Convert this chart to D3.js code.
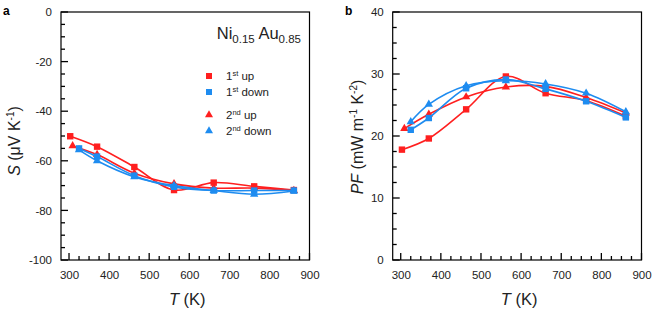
<!DOCTYPE html>
<html>
<head>
<meta charset="utf-8">
<script src="https://cdn.jsdelivr.net/npm/d3@7"></script>
<style>
  body { margin: 0; background: #fff; }
  svg { font-family: "Liberation Sans", Arial, sans-serif; }
</style>
</head>
<body>
<svg id="chart" width="664" height="316"></svg>
<script>
// temperatures (K)
const tUp1 = [303, 370, 463, 562, 661, 762, 861];
const tUp2 = [309, 370, 463, 562, 661, 762, 861];
const tDown = [325, 370, 463, 562, 661, 762, 861];

// Seebeck coefficient S (uV/K)
const sUp1 = [-50.1, -54.3, -62.5, -71.8, -68.8, -70.3, -71.8];
const sDown1 = [-55.0, -58.3, -66.0, -70.5, -72.0, -72.0, -72.0];
const sUp2 = [-54.0, -57.5, -65.0, -69.3, -71.0, -71.0, -72.0];
const sDown2 = [-55.6, -60.0, -66.5, -70.0, -72.0, -73.5, -72.2];

// Power factor PF (mW m-1 K-2)
const pfUp1 = [17.8, 19.6, 24.3, 29.6, 26.9, 25.7, 23.2];
const pfDown1 = [21.0, 22.9, 27.7, 29.1, 27.6, 25.6, 23.0];
const pfUp2 = [21.2, 23.5, 26.3, 27.9, 28.0, 26.2, 23.7];
const pfDown2 = [22.3, 25.1, 28.1, 28.9, 28.4, 26.9, 23.9];

const xTicks = [300, 400, 500, 600, 700, 800, 900];
const sTicks = [0, -20, -40, -60, -80, -100];
const pfTicks = [0, 10, 20, 30, 40];

const RED = "#ff1f1f";
const BLUE = "#1e8cf0";

const svg = d3.select("svg#chart");
const font = "Liberation Sans, Arial, sans-serif";

function zip(xs, ys) { return xs.map((x, i) => ({ x: x, y: ys[i] })); }

function panel(opts) {
  const g = svg.append("g");
  const x = d3.scaleLinear().domain([280, 900]).range([opts.left, opts.right]);
  const y = d3.scaleLinear().domain(opts.yDomain).range([260, 12]);

  // frame
  g.append("rect")
    .attr("x", opts.left).attr("y", 12)
    .attr("width", opts.right - opts.left).attr("height", 248)
    .attr("fill", "none").attr("stroke", "#000").attr("stroke-width", 1.2);

  // x axis labels
  const xAxis = g.append("g").attr("transform", "translate(0,260)")
    .call(d3.axisBottom(x).tickValues(xTicks).tickSize(0).tickPadding(9).tickFormat(d => String(d)));
  xAxis.select(".domain").remove();

  // y axis labels
  const yAxis = g.append("g").attr("transform", `translate(${opts.left},0)`)
    .call(d3.axisLeft(y).tickValues(opts.yTicks).tickSize(0).tickPadding(9).tickFormat(d => String(d)));
  yAxis.select(".domain").remove();

  g.selectAll(".tick text").attr("font-size", 11.5).attr("font-family", font).attr("fill", "#222");
  xAxis.selectAll(".tick text").attr("dy", "0.9em");

  // inward tick marks
  const xMinor = d3.range(300, 900, 25).filter(v => v % 100 !== 0);
  const ticks = g.append("g").style("stroke", "#000").style("stroke-width", "1.3px");
  ticks.selectAll("line.xmaj").data(xTicks).join("line").attr("class", "xmaj")
    .attr("x1", d => x(d)).attr("x2", d => x(d)).attr("y1", 260).attr("y2", 253);
  ticks.selectAll("line.xmin").data(xMinor).join("line").attr("class", "xmin")
    .attr("x1", d => x(d)).attr("x2", d => x(d)).attr("y1", 260).attr("y2", 256);
  ticks.selectAll("line.ymaj").data(opts.yTicks).join("line").attr("class", "ymaj")
    .attr("y1", d => y(d)).attr("y2", d => y(d)).attr("x1", opts.left).attr("x2", opts.left + 7);
  ticks.selectAll("line.ymin").data(opts.yMinor).join("line").attr("class", "ymin")
    .attr("y1", d => y(d)).attr("y2", d => y(d)).attr("x1", opts.left).attr("x2", opts.left + 4);

  const line = d3.line().x(d => x(d.x)).y(d => y(d.y)).curve(d3.curveCatmullRom.alpha(0.5));

  opts.series.forEach(s => {
    const pts = zip(s.t, s.v);
    g.append("path").datum(pts)
      .attr("d", line).attr("fill", "none")
      .attr("stroke", s.color).attr("stroke-width", 1.6);
    if (s.shape === "square") {
      g.selectAll(null).data(pts).join("rect")
        .attr("x", d => x(d.x) - 3.2).attr("y", d => y(d.y) - 3.2)
        .attr("width", 6.4).attr("height", 6.4).attr("fill", s.color);
    } else {
      g.selectAll(null).data(pts).join("path")
        .attr("transform", d => `translate(${x(d.x)},${y(d.y)})`)
        .attr("d", d3.symbol(d3.symbolTriangle, 30)).attr("fill", s.color);
    }
  });

  // panel letter
  g.append("text").attr("x", opts.letterX).attr("y", 15)
    .attr("font-size", 12).attr("font-weight", "bold").attr("font-family", font)
    .text(opts.letter);

  // x title
  const xt = g.append("text").attr("x", (opts.left + opts.right) / 2 + 2).attr("y", 305)
    .attr("text-anchor", "middle").attr("font-size", 16.5).attr("font-family", font).attr("fill", "#222");
  xt.append("tspan").attr("font-style", "italic").text("T");
  xt.append("tspan").text(" (K)");

  return { g: g, x: x, y: y };
}

const a = panel({
  left: 61, right: 309.5, yDomain: [-100, 0], yTicks: sTicks,
  yMinor: d3.range(-95, 0, 5).filter(v => v % 20 !== 0),
  letter: "a", letterX: 3,
  series: [
    { t: tUp1, v: sUp1, color: RED, shape: "square" },
    { t: tUp2, v: sUp2, color: RED, shape: "triangle" },
    { t: tDown, v: sDown1, color: BLUE, shape: "square" },
    { t: tDown, v: sDown2, color: BLUE, shape: "triangle" }
  ]
});

const b = panel({
  left: 392.7, right: 641.5, yDomain: [0, 40], yTicks: pfTicks,
  yMinor: d3.range(2.5, 40, 2.5).filter(v => v % 10 !== 0),
  letter: "b", letterX: 345,
  series: [
    { t: tUp1, v: pfUp1, color: RED, shape: "square" },
    { t: tUp2, v: pfUp2, color: RED, shape: "triangle" },
    { t: tDown, v: pfDown1, color: BLUE, shape: "square" },
    { t: tDown, v: pfDown2, color: BLUE, shape: "triangle" }
  ]
});

// y titles
const ya = svg.append("text").attr("transform", "translate(20,141) rotate(-90)")
  .attr("text-anchor", "middle").attr("font-size", 16).attr("font-family", font).attr("fill", "#222");
ya.append("tspan").attr("font-style", "italic").text("S");
ya.append("tspan").text(" (μV K");
ya.append("tspan").attr("font-size", 10).attr("dy", -6).text("-1");
ya.append("tspan").attr("dy", 6).text(")");

const yb = svg.append("text").attr("transform", "translate(363,137) rotate(-90)")
  .attr("text-anchor", "middle").attr("font-size", 16).attr("font-family", font).attr("fill", "#222");
yb.append("tspan").attr("font-style", "italic").text("PF");
yb.append("tspan").text("  (mW m");
yb.append("tspan").attr("font-size", 10).attr("dy", -6).text("-1");
yb.append("tspan").attr("dy", 6).text(" K");
yb.append("tspan").attr("font-size", 10).attr("dy", -6).text("-2");
yb.append("tspan").attr("dy", 6).text(")");

// composition label
const comp = svg.append("text").attr("x", 301).attr("y", 39).attr("text-anchor", "end")
  .attr("font-size", 16.5).attr("font-family", font).attr("fill", "#222");
comp.append("tspan").text("Ni");
comp.append("tspan").attr("font-size", 11.5).attr("dy", 4).text("0.15");
comp.append("tspan").attr("dy", -4).text(" Au");
comp.append("tspan").attr("font-size", 11.5).attr("dy", 4).text("0.85");

// legend
const legendItems = [
  { n: "1", sup: "st", label: " up", color: RED, shape: "square", y: 76 },
  { n: "1", sup: "st", label: " down", color: BLUE, shape: "square", y: 92 },
  { n: "2", sup: "nd", label: " up", color: RED, shape: "triangle", y: 115 },
  { n: "2", sup: "nd", label: " down", color: BLUE, shape: "triangle", y: 131 }
];
const lg = svg.append("g");
legendItems.forEach(d => {
  if (d.shape === "square") {
    lg.append("rect").attr("x", 206).attr("y", d.y - 3).attr("width", 6).attr("height", 6).attr("fill", d.color);
  } else {
    lg.append("path").attr("transform", `translate(209,${d.y})`)
      .attr("d", d3.symbol(d3.symbolTriangle, 28)).attr("fill", d.color);
  }
  const t = lg.append("text").attr("x", 226).attr("y", d.y + 4)
    .attr("font-size", 11.5).attr("font-family", font).attr("fill", "#222");
  t.append("tspan").text(d.n);
  t.append("tspan").attr("font-size", 7.5).attr("dy", -4).text(d.sup);
  t.append("tspan").attr("dy", 4).text(d.label);
});
</script>
</body>
</html>
